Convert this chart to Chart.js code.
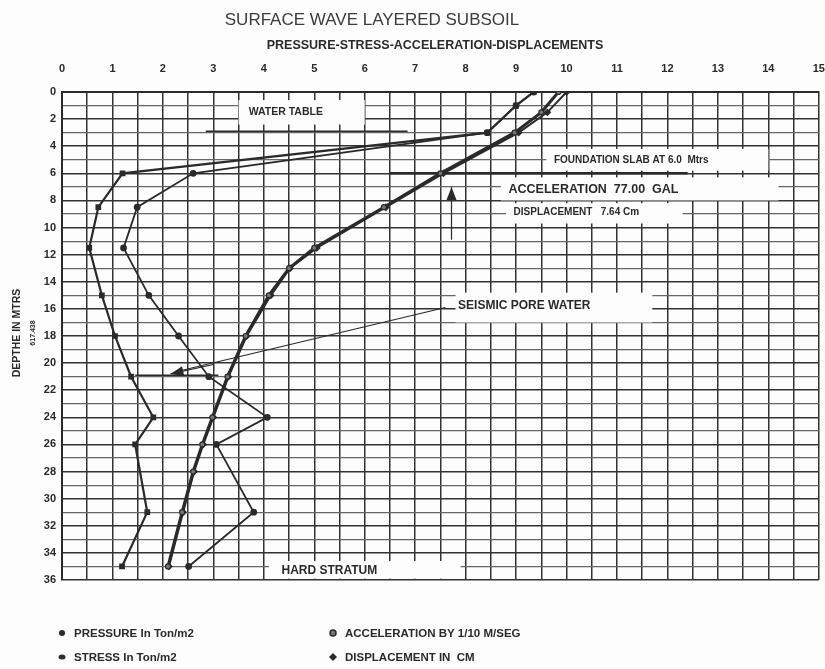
<!DOCTYPE html>
<html>
<head>
<meta charset="utf-8">
<script src="https://cdn.jsdelivr.net/npm/chart.js@4.4.1/dist/chart.umd.min.js"></script>
<style>
    html, body { margin: 0; padding: 0; background: #fdfdfd; }
    #wrap { width: 825px; height: 669px; }
</style>
</head>
<body>
<div id="wrap"><canvas id="grafico"></canvas></div>
<script>
// Depth of each reading (m) and the values read at those depths
const sampleDepths = [0, 1, 3, 6, 8.5, 11.5, 15, 18, 21, 24, 26, 31, 35];
const pressure = [9.35, 9.0, 8.43, 1.2, 0.72, 0.54, 0.79, 1.05, 1.37, 1.81, 1.45, 1.69, 1.19];
const stress = [9.35, 9.0, 8.43, 2.6, 1.49, 1.22, 1.72, 2.31, 2.91, 4.07, 3.06, 3.8, 2.51];

const curveDepths = [0, 1.5, 3, 6, 8.5, 11.5, 13, 15, 18, 21, 24, 26, 28, 31, 35];
const acceleration = [9.84, 9.5, 8.97, 7.5, 6.38, 5.0, 4.5, 4.1, 3.64, 3.28, 2.98, 2.78, 2.6, 2.38, 2.1];
const displacement = [10.0, 9.62, 9.05, 7.56, 6.42, 5.05, 4.52, 4.14, 3.66, 3.3, 3.0, 2.8, 2.62, 2.4, 2.12];

const xTickLabels = [0, 1, 2, 3, 4, 5, 6, 7, 8, 9, 10, 11, 12, 13, 14, 15];
const yTickLabels = [0, 2, 4, 6, 8, 10, 12, 14, 16, 18, 20, 22, 24, 26, 28, 30, 32, 34, 36];

const seriesNames = ['PRESSURE In Ton/m2', 'STRESS In Ton/m2', 'ACCELERATION BY 1/10 M/SEG', 'DISPLACEMENT IN  CM'];

const ink = '#2a2a2a';
const fontFamily = '"Liberation Sans", Arial, sans-serif';

// pares (x, y) a partir dos arrays
const toPoints = (values, depths) => values.map((v, i) => ({ x: v, y: depths[i] }));

// textos e linhas de anotação em unidades do gráfico
const annotations = {
    boxes: [
        { x1: 3.5, x2: 6.0, y1: 0.6, y2: 2.4 },
        { x1: 9.6, x2: 14.0, y1: 4.2, y2: 5.8 },
        { x1: 8.7, x2: 14.2, y1: 6.3, y2: 8.0 },
        { x1: 8.8, x2: 12.3, y1: 8.2, y2: 9.7 },
        { x1: 7.8, x2: 11.7, y1: 14.8, y2: 17.0 },
        { x1: 4.1, x2: 7.9, y1: 34.6, y2: 35.9 }
    ],
    texts: [
        { x: 3.7, y: 1.5, text: 'WATER TABLE', size: 10.5 },
        { x: 9.75, y: 5.0, text: 'FOUNDATION SLAB AT 6.0  Mtrs', size: 10 },
        { x: 8.85, y: 7.2, text: 'ACCELERATION  77.00  GAL', size: 12.5 },
        { x: 8.95, y: 8.9, text: 'DISPLACEMENT   7.64 Cm', size: 10 },
        { x: 7.85, y: 15.8, text: 'SEISMIC PORE WATER', size: 12 },
        { x: 4.35, y: 35.3, text: 'HARD STRATUM', size: 12 }
    ],
    lines: [
        { x1: 2.85, y1: 2.9, x2: 6.85, y2: 2.9, w: 1.5 },
        { x1: 6.5, y1: 6.0, x2: 12.4, y2: 6.0, w: 2.5 },
        { x1: 7.6, y1: 15.9, x2: 2.3, y2: 20.6, w: 1.2 },
        { x1: 1.45, y1: 20.9, x2: 3.1, y2: 20.9, w: 1.5 }
    ],
    arrows: [
        { x1: 7.72, y1: 10.9, x2: 7.72, y2: 7.0 },
        { x1: 3.0, y1: 20.1, x2: 2.15, y2: 20.8 }
    ]
};

const notesPlugin = {
    id: 'notes',
    beforeDatasetsDraw(chart) {
        const { ctx, scales: { x, y } } = chart;
        ctx.save();
        ctx.fillStyle = '#fdfdfd';
        annotations.boxes.forEach(b => {
            const px1 = x.getPixelForValue(b.x1), px2 = x.getPixelForValue(b.x2);
            const py1 = y.getPixelForValue(b.y1), py2 = y.getPixelForValue(b.y2);
            ctx.fillRect(px1, py1, px2 - px1, py2 - py1);
        });
        ctx.strokeStyle = ink;
        annotations.lines.forEach(l => {
            ctx.lineWidth = l.w;
            ctx.beginPath();
            ctx.moveTo(x.getPixelForValue(l.x1), y.getPixelForValue(l.y1));
            ctx.lineTo(x.getPixelForValue(l.x2), y.getPixelForValue(l.y2));
            ctx.stroke();
        });
        annotations.arrows.forEach(a => {
            const ax1 = x.getPixelForValue(a.x1), ay1 = y.getPixelForValue(a.y1);
            const ax2 = x.getPixelForValue(a.x2), ay2 = y.getPixelForValue(a.y2);
            const ang = Math.atan2(ay2 - ay1, ax2 - ax1);
            ctx.lineWidth = 1.2;
            ctx.beginPath();
            ctx.moveTo(ax1, ay1);
            ctx.lineTo(ax2, ay2);
            ctx.stroke();
            ctx.fillStyle = ink;
            ctx.beginPath();
            ctx.moveTo(ax2, ay2);
            ctx.lineTo(ax2 - 13 * Math.cos(ang) + 5 * Math.sin(ang), ay2 - 13 * Math.sin(ang) - 5 * Math.cos(ang));
            ctx.lineTo(ax2 - 13 * Math.cos(ang) - 5 * Math.sin(ang), ay2 - 13 * Math.sin(ang) + 5 * Math.cos(ang));
            ctx.closePath();
            ctx.fill();
        });
        ctx.fillStyle = ink;
        ctx.textBaseline = 'middle';
        annotations.texts.forEach(t => {
            ctx.font = 'bold ' + t.size + 'px ' + fontFamily;
            ctx.fillText(t.text, x.getPixelForValue(t.x), y.getPixelForValue(t.y));
        });
        ctx.restore();
    },
    afterDraw(chart) {
        const ctx = chart.ctx;
        ctx.save();
        // titulo e subtitulo
        ctx.textAlign = 'center';
        ctx.textBaseline = 'middle';
        ctx.fillStyle = '#3c3c3c';
        ctx.font = '17px ' + fontFamily;
        ctx.fillText('SURFACE WAVE LAYERED SUBSOIL', 372, 20);
        ctx.fillStyle = ink;
        ctx.font = 'bold 12.5px ' + fontFamily;
        ctx.fillText('PRESSURE-STRESS-ACCELERATION-DISPLACEMENTS', 435, 46);

        // titulo do eixo y
        ctx.save();
        ctx.translate(17, 333);
        ctx.rotate(-Math.PI / 2);
        ctx.font = 'bold 10.5px ' + fontFamily;
        ctx.fillText('DEPTHE IN MTRS', 0, 0);
        ctx.font = 'bold 7px ' + fontFamily;
        ctx.fillText('617.438', 0, 16);
        ctx.restore();

        // legenda em duas colunas
        const slots = [[62, 633], [62, 657], [333, 633], [333, 657]];
        const styles = ['rect', 'circle', 'ring', 'diamond'];
        ctx.textAlign = 'left';
        ctx.font = 'bold 11.5px ' + fontFamily;
        seriesNames.forEach((name, i) => {
            const [lx, ly] = slots[i];
            ctx.fillStyle = ink;
            ctx.strokeStyle = ink;
            ctx.lineWidth = 1.5;
            ctx.beginPath();
            if (styles[i] === 'rect') {
                ctx.arc(lx, ly, 3, 0, Math.PI * 2);
                ctx.fill();
            } else if (styles[i] === 'circle') {
                ctx.ellipse(lx, ly, 3.5, 2.5, 0, 0, Math.PI * 2);
                ctx.fill();
            } else if (styles[i] === 'ring') {
                ctx.arc(lx, ly, 3, 0, Math.PI * 2);
                ctx.fillStyle = '#777';
                ctx.fill();
                ctx.stroke();
            } else {
                ctx.moveTo(lx, ly - 4);
                ctx.lineTo(lx + 4, ly);
                ctx.lineTo(lx, ly + 4);
                ctx.lineTo(lx - 4, ly);
                ctx.closePath();
                ctx.fill();
            }
            ctx.fillStyle = ink;
            ctx.fillText(name, lx + 12, ly + 1);
        });
        ctx.restore();
    }
};

new Chart(document.getElementById('grafico').getContext('2d'), {
    type: 'scatter',
    data: {
        datasets: [
            {
                label: seriesNames[0],
                data: toPoints(pressure, sampleDepths),
                showLine: true,
                borderColor: ink,
                backgroundColor: ink,
                borderWidth: 2.2,
                pointStyle: 'rect',
                pointRadius: 2.5
            },
            {
                label: seriesNames[1],
                data: toPoints(stress, sampleDepths),
                showLine: true,
                borderColor: ink,
                backgroundColor: ink,
                borderWidth: 1.8,
                pointStyle: 'circle',
                pointRadius: 2.5
            },
            {
                label: seriesNames[2],
                data: toPoints(acceleration, curveDepths),
                showLine: true,
                borderColor: ink,
                backgroundColor: '#777',
                borderWidth: 3,
                pointStyle: 'circle',
                pointRadius: 2.5,
                pointBorderWidth: 1.2
            },
            {
                label: seriesNames[3],
                data: toPoints(displacement, curveDepths),
                showLine: true,
                borderColor: ink,
                backgroundColor: ink,
                borderWidth: 2,
                pointStyle: 'rectRot',
                pointRadius: 2.5
            }
        ]
    },
    options: {
        responsive: true,
        maintainAspectRatio: false,
        animation: false,
        layout: { padding: { left: 0, right: 6, top: 0, bottom: 89 } },
        plugins: {
            legend: { display: false },
            title: { display: false },
            tooltip: { enabled: false }
        },
        scales: {
            x: {
                type: 'linear',
                position: 'top',
                min: 0,
                max: 15,
                afterFit: (scale) => {
                    scale.height = 92;
                    scale.paddingLeft = 0;
                    scale.paddingRight = 0;
                },
                border: { display: true, color: ink, width: 2 },
                grid: { color: '#333', lineWidth: 1.5, drawTicks: false },
                ticks: {
                    stepSize: 0.5,
                    autoSkip: false,
                    maxRotation: 0,
                    padding: 16,
                    color: ink,
                    font: { family: fontFamily, size: 11, weight: 'bold' },
                    callback: (v) => xTickLabels.includes(v) ? String(v) : ''
                }
            },
            y: {
                type: 'linear',
                reverse: true,
                min: 0,
                max: 36,
                afterFit: (scale) => {
                    scale.width = 62;
                    scale.paddingTop = 0;
                    scale.paddingBottom = 0;
                },
                border: { display: true, color: ink, width: 2 },
                grid: {
                    drawTicks: false,
                    color: (c) => c.tick && c.tick.value % 2 === 0 ? '#333' : '#666',
                    lineWidth: (c) => c.tick && c.tick.value % 2 === 0 ? 1.6 : 1.2
                },
                ticks: {
                    stepSize: 1,
                    autoSkip: false,
                    padding: 6,
                    color: ink,
                    font: { family: fontFamily, size: 11, weight: 'bold' },
                    callback: (v) => yTickLabels.includes(v) ? String(v) : ''
                }
            }
        }
    },
    plugins: [notesPlugin]
});
</script>
</body>
</html>
